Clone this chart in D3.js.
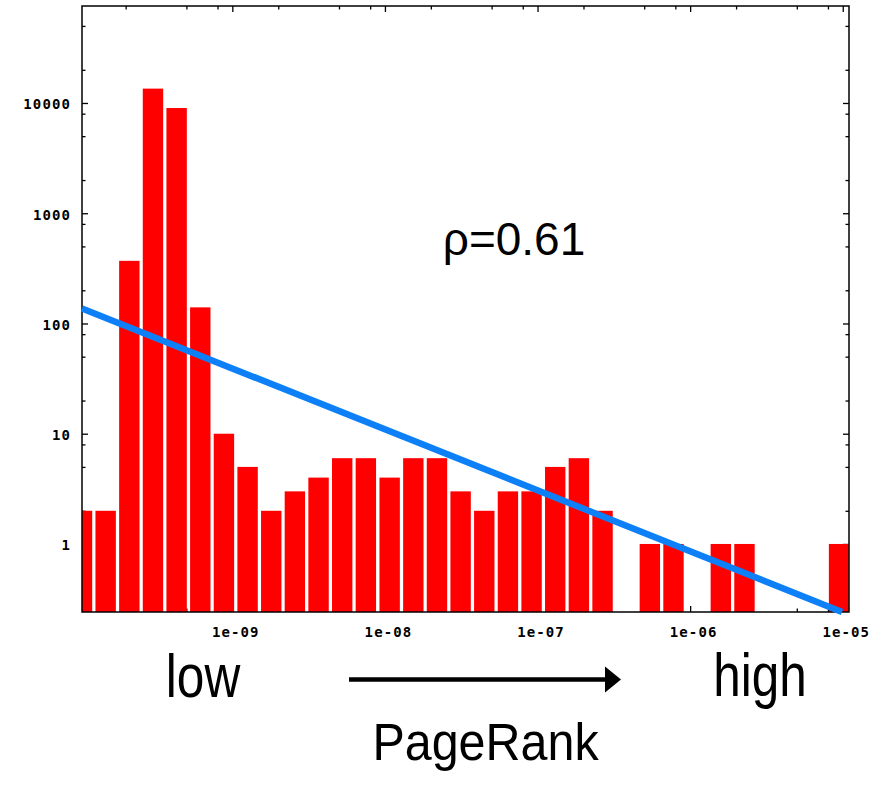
<!DOCTYPE html>
<html>
<head>
<meta charset="utf-8">
<script src="https://cdn.jsdelivr.net/npm/d3@7"></script>
<style>
  body { margin: 0; background: #fff; }
  svg { display: block; }
</style>
</head>
<body>
<svg id="chart" width="877" height="786"></svg>
<script>
// bin centres (PageRank) and number of pages in each bin
const binCenters = [1.035e-10, 1.479e-10, 2.114e-10, 3.02e-10, 4.315e-10, 6.166e-10, 8.81e-10,
  1.259e-9, 1.799e-9, 2.57e-9, 3.673e-9, 5.248e-9, 7.5e-9, 1.074e-8, 1.535e-8, 2.193e-8,
  3.133e-8, 4.477e-8, 6.397e-8, 9.14e-8, 1.306e-7, 1.866e-7, 2.667e-7, 3.81e-7, 5.445e-7,
  7.78e-7, 1.112e-6, 1.589e-6, 2.27e-6, 3.243e-6, 4.634e-6, 6.622e-6, 9.46e-6];
const binCounts = [2, 2, 370, 13500, 9000, 140, 10, 5, 2, 3, 4, 6, 6, 4, 6, 6,
  3, 2, 3, 3, 5, 6, 2, 0, 1, 1, 0, 1, 1, 0, 0, 0, 1];

// power law fit (blue line), two end points
const fitX = [1.035e-10, 9.89e-6];
const fitY = [137, 0.2415];

// axis ranges and ticks
const xRange = [1.035e-10, 1.099e-5];
const yRange = [0.2415, 75800];
const xMajor = [1e-9, 1e-8, 1e-7, 1e-6, 1e-5];
const xLabels = ["1e-09", "1e-08", "1e-07", "1e-06", "1e-05"];
const xMinor = [2e-10, 5e-10, 8e-10, 2e-9, 5e-9, 8e-9, 2e-8, 5e-8, 8e-8,
  2e-7, 5e-7, 8e-7, 2e-6, 5e-6, 8e-6];
const yMajor = [1, 10, 100, 1000, 10000];
const yLabels = ["1", "10", "100", "1000", "10000"];
const yMinor = [0.5, 0.8, 2, 5, 8, 20, 50, 80, 200, 500, 800, 2000, 5000, 8000, 20000, 50000];

const corrText = "ρ=0.61";

const svg = d3.select("#chart");
const plotL = 82, plotT = 6, plotR = 849, plotB = 612;

const x = d3.scaleLog().domain(xRange).range([plotL, plotR]);
const y = d3.scaleLog().domain(yRange).range([plotB, plotT]);

svg.append("rect").attr("width", 877).attr("height", 786).attr("fill", "#fff");

svg.append("defs").append("clipPath").attr("id", "plot-clip")
  .append("rect").attr("x", plotL).attr("y", plotT)
  .attr("width", plotR - plotL).attr("height", plotB - plotT);

// ticks, all pointing inwards
function tickStyle(g) {
  g.select(".domain").remove();
  g.selectAll(".tick line").attr("stroke", "#000").attr("stroke-width", 1.3);
  g.selectAll(".tick text")
    .attr("fill", "#000")
    .attr("font-family", "'DejaVu Sans Mono', monospace")
    .attr("font-weight", "bold")
    .attr("font-size", 14)
    .attr("letter-spacing", 1.1);
}

svg.append("g").attr("transform", `translate(${plotL},0)`)
  .call(d3.axisLeft(y).tickValues(yMajor).tickFormat((d, i) => yLabels[i]).tickSize(-6).tickPadding(11))
  .call(tickStyle)
  .selectAll("text").attr("dy", "0.42em");
svg.append("g").attr("transform", `translate(${plotL},0)`)
  .call(d3.axisLeft(y).tickValues(yMinor).tickFormat("").tickSize(-3.5)).call(tickStyle);
svg.append("g").attr("transform", `translate(${plotR},0)`)
  .call(d3.axisRight(y).tickValues(yMajor).tickFormat("").tickSize(-6)).call(tickStyle);
svg.append("g").attr("transform", `translate(${plotR},0)`)
  .call(d3.axisRight(y).tickValues(yMinor).tickFormat("").tickSize(-3.5)).call(tickStyle);

svg.append("g").attr("transform", `translate(0,${plotB})`)
  .call(d3.axisBottom(x).tickValues(xMajor).tickFormat((d, i) => xLabels[i]).tickSize(-6).tickPadding(15))
  .call(tickStyle)
  .selectAll("text").attr("dx", 3);
svg.append("g").attr("transform", `translate(0,${plotB})`)
  .call(d3.axisBottom(x).tickValues(xMinor).tickFormat("").tickSize(-3.5)).call(tickStyle);
svg.append("g").attr("transform", `translate(0,${plotT})`)
  .call(d3.axisTop(x).tickValues(xMajor).tickFormat("").tickSize(-6)).call(tickStyle);
svg.append("g").attr("transform", `translate(0,${plotT})`)
  .call(d3.axisTop(x).tickValues(xMinor).tickFormat("").tickSize(-3.5)).call(tickStyle);

// bars
const barW = 20.4;
const bins = binCenters.map((c, i) => ({ c, n: binCounts[i] })).filter(d => d.n > 0);

svg.append("g").attr("clip-path", "url(#plot-clip)")
  .selectAll("rect")
  .data(bins)
  .enter().append("rect")
  .attr("x", d => x(d.c) - barW / 2)
  .attr("y", d => y(d.n))
  .attr("width", barW)
  .attr("height", d => plotB - y(d.n))
  .attr("fill", "#ff0000");

// frame
svg.append("rect")
  .attr("x", plotL).attr("y", plotT)
  .attr("width", plotR - plotL).attr("height", plotB - plotT)
  .attr("fill", "none").attr("stroke", "#000").attr("stroke-width", 1.5);

// fit line
svg.append("line")
  .attr("x1", x(fitX[0])).attr("y1", y(fitY[0]))
  .attr("x2", x(fitX[1])).attr("y2", y(fitY[1]))
  .attr("stroke", "#0d80f7")
  .attr("stroke-width", 6.5);

svg.append("text")
  .attr("x", 514).attr("y", 255)
  .attr("text-anchor", "middle")
  .attr("font-family", "'Liberation Sans', Arial, sans-serif")
  .attr("font-size", 46)
  .text(corrText);

// "low -> high" under the axis
const labelFont = "'Liberation Sans', Arial, sans-serif";
svg.append("text")
  .attr("transform", "translate(203,697) scale(0.8,1)")
  .attr("text-anchor", "middle")
  .attr("font-family", labelFont).attr("font-size", 62)
  .text("low");
svg.append("text")
  .attr("transform", "translate(760,696) scale(0.81,1)")
  .attr("text-anchor", "middle")
  .attr("font-family", labelFont).attr("font-size", 61)
  .text("high");

svg.append("line")
  .attr("x1", 349).attr("y1", 679.5).attr("x2", 607).attr("y2", 679.5)
  .attr("stroke", "#000").attr("stroke-width", 4.5);
svg.append("path")
  .attr("d", "M605,666.5 L621,679.5 L605,692.5 Z")
  .attr("fill", "#000");

svg.append("text")
  .attr("transform", "translate(485.5,760) scale(0.95,1)")
  .attr("text-anchor", "middle")
  .attr("font-family", labelFont).attr("font-size", 51)
  .text("PageRank");
</script>
</body>
</html>
